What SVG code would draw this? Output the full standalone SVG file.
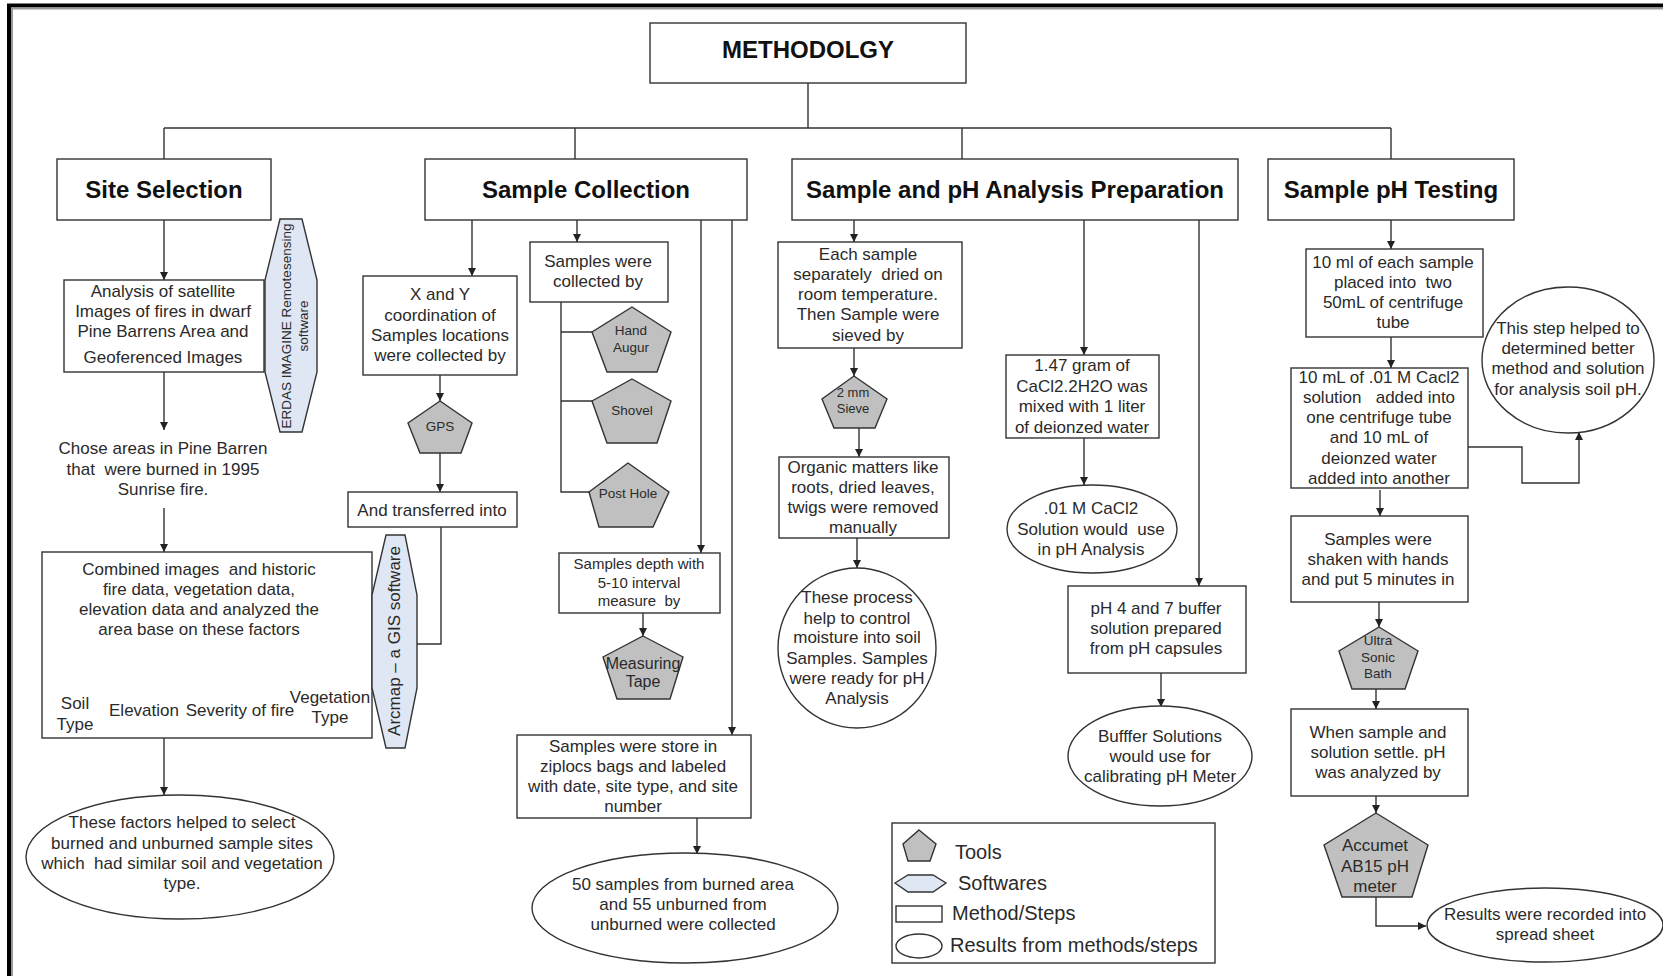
<svg xmlns="http://www.w3.org/2000/svg" width="1663" height="976" viewBox="0 0 1663 976">
<defs>
<marker id="ah" markerUnits="userSpaceOnUse" markerWidth="9" markerHeight="9" refX="8" refY="4" orient="auto">
<path d="M0,0 L8,4 L0,8 z" fill="#222"/>
</marker>
<style>
text{font-family:"Liberation Sans",Arial,sans-serif;fill:#2a2a2a;text-anchor:middle;font-size:17px;white-space:pre}
.h{font-weight:bold;font-size:24px;fill:#111}
.b{fill:#fff;stroke:#333;stroke-width:1.4}
.t{fill:#c0c0c0;stroke:#333;stroke-width:1.4}
.s{fill:#dfe6f4;stroke:#333;stroke-width:1.4}
.r{fill:#fff;stroke:#333;stroke-width:1.4}
.c{fill:none;stroke:#333;stroke-width:1.4}
.a{marker-end:url(#ah)}
.sm{font-size:13.5px}
.m15{font-size:15px}
.lg{font-size:20px;text-anchor:start}
</style>
</defs>
<rect width="1663" height="976" fill="#fff"/>
<path d="M9,976 V5.5 H1663" fill="none" stroke="#000" stroke-width="4"/>
<path d="M12,976 V8.5 H1663" fill="none" stroke="#999" stroke-width="2"/>

<g id="connectors">
<path class="c" d="M808,83 V128 M164,128 H1391 M164,128 V159 M575,128 V159 M962,128 V159 M1391,128 V159"/>
<path class="c a" d="M164,220 V280"/>
<path class="c a" d="M164,372 V430"/>
<path class="c a" d="M164,508 V552"/>
<path class="c a" d="M200,643 V665"/>
<path class="c" d="M83,686 V672 H331 V686 M152,672 V686 M249,672 V686"/>
<path class="c a" d="M164,738 V795"/>
<path class="c a" d="M472,220 V276"/>
<path class="c a" d="M577,220 V242"/>
<path class="c a" d="M701,220 V553"/>
<path class="c a" d="M732,220 V735"/>
<path class="c a" d="M440,375 V401"/>
<path class="c a" d="M440,453 V492"/>
<path class="c" d="M441,527 V644 H417"/>
<path class="c" d="M561,302 V492 H589 M561,332 H592 M561,401 H592"/>
<path class="c a" d="M643,613 V636"/>
<path class="c a" d="M697,818 V854"/>
<path class="c a" d="M854,220 V242"/>
<path class="c a" d="M1084,220 V355"/>
<path class="c a" d="M1199,220 V586"/>
<path class="c a" d="M854,348 V376"/>
<path class="c a" d="M859,428 V457"/>
<path class="c a" d="M857,538 V568"/>
<path class="c a" d="M1084,438 V485"/>
<path class="c a" d="M1161,673 V707"/>
<path class="c a" d="M1391,220 V249"/>
<path class="c a" d="M1391,337 V368"/>
<path class="c a" d="M1468,447 H1522 V483 H1579 V432"/>
<path class="c a" d="M1380,490 V516"/>
<path class="c a" d="M1379,602 V627"/>
<path class="c a" d="M1376,689 V709"/>
<path class="c a" d="M1376,796 V813"/>
<path class="c a" d="M1376,897 V926 H1426"/>
</g>

<g id="methodology">
<rect class="b" x="650" y="23" width="316" height="60"/>
<text class="h" x="808" y="58">METHODOLGY</text>
</g>

<g id="site-selection">
<rect class="b" x="57" y="159" width="214" height="61"/>
<text class="h" x="164" y="198">Site Selection</text>
</g>
<g id="sample-collection">
<rect class="b" x="425" y="159" width="322" height="61"/>
<text class="h" x="586" y="198">Sample Collection</text>
</g>
<g id="analysis-preparation">
<rect class="b" x="792" y="159" width="446" height="61"/>
<text class="h" x="1015" y="198">Sample and pH Analysis Preparation</text>
</g>
<g id="ph-testing">
<rect class="b" x="1268" y="159" width="246" height="61"/>
<text class="h" x="1391" y="198">Sample pH Testing</text>
</g>

<g id="analysis-satellite">
<rect class="r" x="64" y="280" width="200" height="92"/>
<text x="163" y="297">Analysis of satellite</text>
<text x="163" y="317">Images of fires in dwarf</text>
<text x="163" y="337">Pine Barrens Area and</text>
<text x="163" y="363">Geoferenced Images</text>
</g>
<g id="erdas">
<polygon class="s" points="280,219 302,219 317,280 317,372 302,432 280,432 265,372 265,280"/>
<text class="sm" transform="translate(291,326) rotate(-90)">ERDAS IMAGINE Remotesensing</text>
<text class="sm" transform="translate(308,326) rotate(-90)">software</text>
</g>
<g id="chose-areas">
<text x="163" y="454">Chose areas in Pine Barren</text>
<text x="163" y="475">that  were burned in 1995</text>
<text x="163" y="495">Sunrise fire.</text>
</g>
<g id="combined">
<rect class="r" x="42" y="552" width="330" height="186"/>
<text x="199" y="575">Combined images  and historic</text>
<text x="199" y="595">fire data, vegetation data,</text>
<text x="199" y="615">elevation data and analyzed the</text>
<text x="199" y="635">area base on these factors</text>
<text x="75" y="709">Soil</text>
<text x="75" y="730">Type</text>
<text x="144" y="716">Elevation</text>
<text x="240" y="716">Severity of fire</text>
<text x="330" y="703">Vegetation</text>
<text x="330" y="723">Type</text>
</g>
<g id="arcmap">
<polygon class="s" points="386,535 405,535 417,595 417,688 405,748 386,748 372,688 372,595"/>
<text transform="translate(400,641) rotate(-90)">Arcmap – a GIS software</text>
</g>
<g id="factors-result">
<ellipse class="r" cx="180" cy="857" rx="154" ry="62"/>
<text x="182" y="828">These factors helped to select</text>
<text x="182" y="849">burned and unburned sample sites</text>
<text x="182" y="869">which  had similar soil and vegetation</text>
<text x="182" y="889">type.</text>
</g>

<g id="xy-coordination">
<rect class="r" x="363" y="276" width="154" height="99"/>
<text x="440" y="300">X and Y</text>
<text x="440" y="321">coordination of</text>
<text x="440" y="341">Samples locations</text>
<text x="440" y="361">were collected by</text>
</g>
<g id="gps">
<polygon class="t" points="440,401 472,423 461,453 420,453 408,423"/>
<text class="sm" x="440" y="431">GPS</text>
</g>
<g id="transferred">
<rect class="r" x="348" y="492" width="169" height="35"/>
<text x="432" y="516">And transferred into</text>
</g>
<g id="collected-by">
<rect class="r" x="530" y="242" width="138" height="60"/>
<text x="598" y="267">Samples were</text>
<text x="598" y="287">collected by</text>
</g>
<g id="hand-augur">
<polygon class="t" points="632,307 671,332 657,372 607,372 592,332"/>
<text class="sm" x="631" y="335">Hand</text>
<text class="sm" x="631" y="352">Augur</text>
</g>
<g id="shovel">
<polygon class="t" points="632,379 671,401 657,443 607,443 592,401"/>
<text class="sm" x="632" y="415">Shovel</text>
</g>
<g id="post-hole">
<polygon class="t" points="628,463 669,492 653,527 599,527 589,492"/>
<text class="sm" x="628" y="498">Post Hole</text>
</g>
<g id="samples-depth">
<rect class="r" x="559" y="553" width="161" height="60"/>
<text class="m15" x="639" y="569">Samples depth with</text>
<text class="m15" x="639" y="588">5-10 interval</text>
<text class="m15" x="639" y="606">measure  by</text>
</g>
<g id="measuring-tape">
<polygon class="t" points="643,636 683,657 670,699 617,699 603,657"/>
<text style="font-size:16px" x="643" y="669">Measuring</text>
<text style="font-size:16px" x="643" y="687">Tape</text>
</g>
<g id="store">
<rect class="r" x="517" y="735" width="234" height="83"/>
<text x="633" y="752">Samples were store in</text>
<text x="633" y="772">ziplocs bags and labeled</text>
<text x="633" y="792">with date, site type, and site</text>
<text x="633" y="812">number</text>
</g>
<g id="samples-result">
<ellipse class="r" cx="685" cy="908" rx="153" ry="55"/>
<text x="683" y="890">50 samples from burned area</text>
<text x="683" y="910">and 55 unburned from</text>
<text x="683" y="930">unburned were collected</text>
</g>

<g id="dried">
<rect class="r" x="778" y="242" width="184" height="106"/>
<text x="868" y="260">Each sample</text>
<text x="868" y="280">separately  dried on</text>
<text x="868" y="300">room temperature.</text>
<text x="868" y="320">Then Sample were</text>
<text x="868" y="341">sieved by</text>
</g>
<g id="sieve">
<polygon class="t" points="854,376 887,399 875,428 834,428 822,399"/>
<text style="font-size:13px" x="853" y="397">2 mm</text>
<text style="font-size:13px" x="853" y="413">Sieve</text>
</g>
<g id="organic">
<rect class="r" x="779" y="457" width="170" height="81"/>
<text x="863" y="473">Organic matters like</text>
<text x="863" y="493">roots, dried leaves,</text>
<text x="863" y="513">twigs were removed</text>
<text x="863" y="533">manually</text>
</g>
<g id="process-result">
<ellipse class="r" cx="857" cy="648" rx="79" ry="80"/>
<text x="857" y="603">These process</text>
<text x="857" y="624">help to control</text>
<text x="857" y="643">moisture into soil</text>
<text x="857" y="664">Samples. Samples</text>
<text x="857" y="684">were ready for pH</text>
<text x="857" y="704">Analysis</text>
</g>
<g id="cacl2-mix">
<rect class="r" x="1006" y="355" width="153" height="83"/>
<text x="1082" y="371">1.47 gram of</text>
<text x="1082" y="392">CaCl2.2H2O was</text>
<text x="1082" y="412">mixed with 1 liter</text>
<text x="1082" y="433">of deionzed water</text>
</g>
<g id="cacl2-result">
<ellipse class="r" cx="1092" cy="529" rx="85" ry="44"/>
<text x="1091" y="514">.01 M CaCl2</text>
<text x="1091" y="535">Solution would  use</text>
<text x="1091" y="555">in pH Analysis</text>
</g>
<g id="buffer">
<rect class="r" x="1068" y="586" width="178" height="87"/>
<text x="1156" y="614">pH 4 and 7 buffer</text>
<text x="1156" y="634">solution prepared</text>
<text x="1156" y="654">from pH capsules</text>
</g>
<g id="buffer-result">
<ellipse class="r" cx="1160" cy="756" rx="92" ry="50"/>
<text x="1160" y="742">Bufffer Solutions</text>
<text x="1160" y="762">would use for</text>
<text x="1160" y="782">calibrating pH Meter</text>
</g>

<g id="legend">
<rect class="r" x="892" y="823" width="323" height="140"/>
<polygon class="t" points="919,830 936,844 930,861 908,861 903,844"/>
<text class="lg" x="955" y="859">Tools</text>
<polygon class="s" points="895,883 908,875 933,875 946,883 933,892 908,892"/>
<text class="lg" x="958" y="890">Softwares</text>
<rect class="r" x="896" y="906" width="46" height="16"/>
<text class="lg" x="952" y="920">Method/Steps</text>
<ellipse class="r" cx="919" cy="946" rx="23" ry="12"/>
<text class="lg" x="950" y="952">Results from methods/steps</text>
</g>

<g id="centrifuge">
<rect class="r" x="1306" y="249" width="177" height="88"/>
<text x="1393" y="268">10 ml of each sample</text>
<text x="1393" y="288">placed into  two</text>
<text x="1393" y="308">50mL of centrifuge</text>
<text x="1393" y="328">tube</text>
</g>
<g id="solution-added">
<rect class="r" x="1291" y="368" width="177" height="120"/>
<text x="1379" y="383">10 mL of .01 M Cacl2</text>
<text x="1379" y="403">solution   added into</text>
<text x="1379" y="423">one centrifuge tube</text>
<text x="1379" y="443">and 10 mL of</text>
<text x="1379" y="464">deionzed water</text>
<text x="1379" y="484">added into another</text>
</g>
<g id="step-result">
<ellipse class="r" cx="1568" cy="360" rx="86" ry="73"/>
<text x="1568" y="334">This step helped to</text>
<text x="1568" y="354">determined better</text>
<text x="1568" y="374">method and solution</text>
<text x="1568" y="395">for analysis soil pH.</text>
</g>
<g id="shaken">
<rect class="r" x="1291" y="516" width="177" height="86"/>
<text x="1378" y="545">Samples were</text>
<text x="1378" y="565">shaken with hands</text>
<text x="1378" y="585">and put 5 minutes in</text>
</g>
<g id="ultrasonic">
<polygon class="t" points="1379,627 1418,651 1405,689 1352,689 1339,651"/>
<text class="sm" x="1378" y="645">Ultra</text>
<text class="sm" x="1378" y="662">Sonic</text>
<text class="sm" x="1378" y="678">Bath</text>
</g>
<g id="settle">
<rect class="r" x="1291" y="709" width="177" height="87"/>
<text x="1378" y="738">When sample and</text>
<text x="1378" y="758">solution settle. pH</text>
<text x="1378" y="778">was analyzed by</text>
</g>
<g id="accumet">
<polygon class="t" points="1376,813 1428,845 1412,897 1342,897 1324,845"/>
<text x="1375" y="851">Accumet</text>
<text x="1375" y="872">AB15 pH</text>
<text x="1375" y="892">meter</text>
</g>
<g id="recorded-result">
<ellipse class="r" cx="1545" cy="925" rx="118" ry="37"/>
<text x="1545" y="920">Results were recorded into</text>
<text x="1545" y="940">spread sheet</text>
</g>
</svg>
